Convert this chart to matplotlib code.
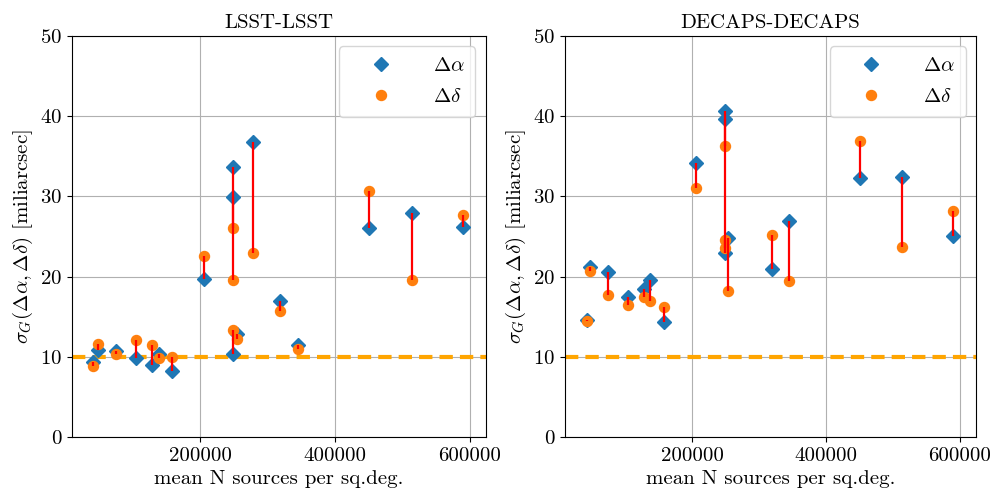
import matplotlib
matplotlib.use("Agg")
import matplotlib.pyplot as plt

plt.rcParams["font.family"] = "serif"
plt.rcParams["font.serif"] = ["cmr10", "DejaVu Serif"]
plt.rcParams["mathtext.fontset"] = "cm"
plt.rcParams["axes.unicode_minus"] = False
plt.rcParams["axes.formatter.use_mathtext"] = True

# LSST-LSST
lsst_n = [41500, 48000, 75000, 105000, 128500, 138500, 158500, 206500,
          249000, 249000, 249000, 254500, 279000, 319000, 345000, 451000, 514000, 590000]
lsst_ra = [9.3, 10.8, 10.7, 9.8, 9.0, 10.3, 8.25, 19.7,
           33.7, 29.9, 10.4, 12.9, 36.8, 16.9, 11.5, 26.0, 27.9, 26.2]
lsst_dec = [8.8, 11.55, 10.4, 12.1, 11.45, 9.9, 9.95, 22.6,
            19.6, 26.0, 13.3, 12.2, 23.0, 15.65, 11.0, 30.7, 19.6, 27.65]

# DECAPS-DECAPS
dec_n = [42800, 46900, 74200, 104000, 127500, 136500, 158000, 206300,
         249600, 249600, 249600, 253500, 319200, 344700, 450300, 514000, 589700]
dec_ra = [14.6, 21.2, 20.6, 17.5, 18.45, 19.6, 14.3, 34.2,
          40.7, 39.7, 22.9, 24.8, 20.9, 26.9, 32.25, 32.4, 25.05]
dec_dec = [14.5, 20.7, 17.65, 16.4, 17.5, 16.9, 16.2, 31.0,
           23.6, 36.3, 24.55, 18.25, 25.15, 19.5, 36.9, 23.7, 28.2]

panels = [("LSST-LSST", lsst_n, lsst_ra, lsst_dec),
          ("DECAPS-DECAPS", dec_n, dec_ra, dec_dec)]

fig = plt.figure(figsize=(9.93, 4.96), dpi=100)
positions = [[0.0725, 0.119, 0.4166, 0.8085], [0.569, 0.119, 0.414, 0.8085]]

for pos, (title, n, ra, dec) in zip(positions, panels):
    ax = fig.add_axes(pos)
    ax.plot(n, ra, "D", color="C0", markersize=7, label=r"$\Delta\alpha$", zorder=3)
    ax.plot(n, dec, "o", color="C1", markersize=7.2, label=r"$\Delta\delta$", zorder=3)
    ax.vlines(n, ra, dec, color="red", lw=1.6, zorder=4)
    ax.axhline(10, color="orange", lw=3, ls=(0, (3.2, 1.7)), zorder=2)
    ax.set_ylim(0, 50)
    ax.set_xlim(10000, 624000)
    ax.set_xticks([200000, 400000, 600000])
    ax.set_xticklabels(["200000", "400000", "600000"])
    ax.grid(True, color="#b0b0b0", lw=0.8)
    ax.set_axisbelow(True)
    ax.tick_params(labelsize=15)
    ax.set_title(title, fontsize=15)
    ax.set_xlabel("mean N sources per sq.deg.", fontsize=15)
    ax.set_ylabel(r"$\sigma_G(\Delta\alpha,\Delta\delta)$ [miliarcsec]", fontsize=15)
    ax.legend(loc="upper right", fontsize=15, handlelength=3, handletextpad=1.0,
              borderpad=0.5, labelspacing=0.6)

fig.savefig("out.png", dpi=100)
